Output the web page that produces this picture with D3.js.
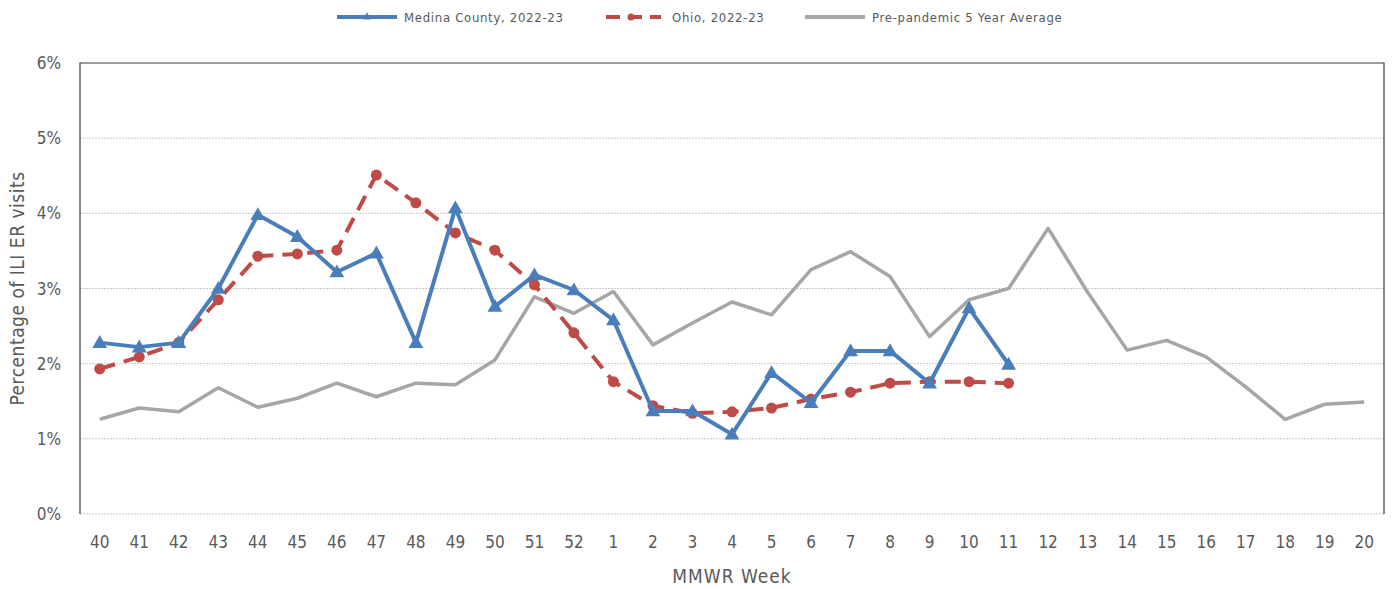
<!DOCTYPE html>
<html>
<head>
<meta charset="utf-8">
<script src="https://cdn.jsdelivr.net/npm/d3@7"></script>
<style>
  body { margin: 0; background: #fff; }
  svg { font-family: "Liberation Sans Narrow", "DejaVu Sans Condensed", sans-serif; }
</style>
</head>
<body>
<div id="chart"></div>
<script>
// data
let weeks = ["40","41","42","43","44","45","46","47","48","49","50","51","52",
  "1","2","3","4","5","6","7","8","9","10","11","12","13","14","15","16","17","18","19","20"];
let medina = [2.28, 2.22, 2.28, 3.0, 3.98, 3.69, 3.22, 3.47, 2.28, 4.07, 2.76, 3.18, 2.98,
  2.58, 1.37, 1.37, 1.06, 1.88, 1.48, 2.17, 2.17, 1.74, 2.74, 1.99];
let ohio = [1.93, 2.09, 2.28, 2.85, 3.43, 3.46, 3.51, 4.51, 4.14, 3.74, 3.51, 3.05, 2.41,
  1.76, 1.44, 1.34, 1.36, 1.41, 1.53, 1.62, 1.74, 1.76, 1.76, 1.74];
let prePandemic = [1.26, 1.41, 1.36, 1.68, 1.42, 1.54, 1.74, 1.56, 1.74, 1.72, 2.05, 2.89, 2.67,
  2.96, 2.25, 2.54, 2.82, 2.65, 3.25, 3.49, 3.16, 2.36, 2.85, 3.0, 3.8, 2.95, 2.18, 2.31, 2.09, 1.69, 1.26, 1.46, 1.49];
let yTicks = [0, 1, 2, 3, 4, 5, 6];

let w = 1392, h = 589;
let margin = {left: 80, right: 8, top: 63, bottom: 75};
let blue = "#4a7ebb", red = "#be4b48", grey = "#a6a6a6", txt = "#595959";

let svg = d3.select("#chart")
  .append("svg")
  .attr("width", w)
  .attr("height", h);

let x = d3.scaleBand()
  .domain(weeks)
  .range([margin.left, w - margin.right]);
let y = d3.scaleLinear()
  .domain([0, 6])
  .range([h - margin.bottom, margin.top]);

// gridlines
svg.append("g").selectAll("line").data(yTicks.slice(0, -1)).join("line")
  .attr("x1", margin.left).attr("x2", w - margin.right)
  .attr("y1", d => y(d)).attr("y2", d => y(d))
  .attr("stroke", "#c8c8c8")
  .attr("stroke-dasharray", "2,1");

// plot border (left, top, right)
svg.append("path")
  .attr("d", "M" + margin.left + "," + y(0) + "V" + y(6) + "H" + (w - margin.right) + "V" + y(0))
  .attr("fill", "none")
  .attr("stroke", "#3a3a3a")
  .attr("stroke-width", 1.2);

// y axis labels
svg.append("g").selectAll("text").data(yTicks).join("text")
  .attr("x", 61)
  .attr("y", d => y(d) + 6)
  .attr("text-anchor", "end")
  .style("font-size", "17px")
  .style("fill", txt)
  .text(d => d + "%");

// x axis labels
svg.append("g").selectAll("text").data(weeks).join("text")
  .attr("x", d => x(d) + x.bandwidth() / 2)
  .attr("y", 548)
  .attr("text-anchor", "middle")
  .style("font-size", "17px")
  .style("fill", txt)
  .text(d => d);

// axis titles
svg.append("text")
  .attr("x", (margin.left + w - margin.right) / 2)
  .attr("y", 583)
  .attr("text-anchor", "middle")
  .style("font-size", "19px")
  .style("letter-spacing", "1px")
  .style("fill", txt)
  .text("MMWR Week");
svg.append("text")
  .attr("transform", "translate(24," + ((y(0) + y(6)) / 2) + ")rotate(-90)")
  .attr("text-anchor", "middle")
  .style("font-size", "19px")
  .style("letter-spacing", "0.5px")
  .style("fill", txt)
  .text("Percentage of ILI ER visits");

let cx = (d, i) => x(weeks[i]) + x.bandwidth() / 2;
let line = d3.line().x(cx).y(d => y(d));
let tri = d3.symbol().type(d3.symbolTriangle).size(95);

// pre-pandemic
svg.append("path")
  .datum(prePandemic)
  .attr("d", line)
  .attr("fill", "none")
  .attr("stroke", grey)
  .attr("stroke-width", 3.5)
  .attr("stroke-linejoin", "round");

// ohio
svg.append("path")
  .datum(ohio)
  .attr("d", line)
  .attr("fill", "none")
  .attr("stroke", red)
  .attr("stroke-width", 4)
  .attr("stroke-dasharray", "16,9");
svg.append("g").selectAll("circle").data(ohio).join("circle")
  .attr("cx", cx)
  .attr("cy", d => y(d))
  .attr("r", 5.5)
  .attr("fill", red);

// medina
svg.append("path")
  .datum(medina)
  .attr("d", line)
  .attr("fill", "none")
  .attr("stroke", blue)
  .attr("stroke-width", 4)
  .attr("stroke-linejoin", "round");
svg.append("g").selectAll("path").data(medina).join("path")
  .attr("transform", (d, i) => "translate(" + cx(d, i) + "," + (y(d) + 1) + ")")
  .attr("d", tri)
  .attr("fill", blue);

// legend
let legend = [
  {name: "Medina County, 2022-23", color: blue, x: 337, marker: "tri"},
  {name: "Ohio, 2022-23", color: red, x: 606, marker: "dot"},
  {name: "Pre-pandemic 5 Year Average", color: grey, x: 805, marker: null}
];
let lg = svg.append("g").selectAll("g").data(legend).join("g")
  .attr("transform", d => "translate(" + d.x + ",17)");
lg.append("line")
  .attr("x1", 0).attr("x2", d => d.marker === "dot" ? 55 : 60)
  .attr("stroke", d => d.color)
  .attr("stroke-width", 4)
  .attr("stroke-dasharray", d => d.marker === "dot" ? "14,8" : null);
lg.filter(d => d.marker === "tri").append("path")
  .attr("transform", "translate(30,0)")
  .attr("d", d3.symbol().type(d3.symbolTriangle).size(30))
  .attr("fill", d => d.color);
lg.filter(d => d.marker === "dot").append("circle")
  .attr("cx", 25).attr("r", 3.5)
  .attr("fill", d => d.color);
lg.append("text")
  .attr("x", d => d.marker === "dot" ? 66 : 67)
  .attr("y", 5)
  .style("font-size", "13px")
  .style("letter-spacing", "0.7px")
  .style("fill", txt)
  .text(d => d.name);
</script>
</body>
</html>
